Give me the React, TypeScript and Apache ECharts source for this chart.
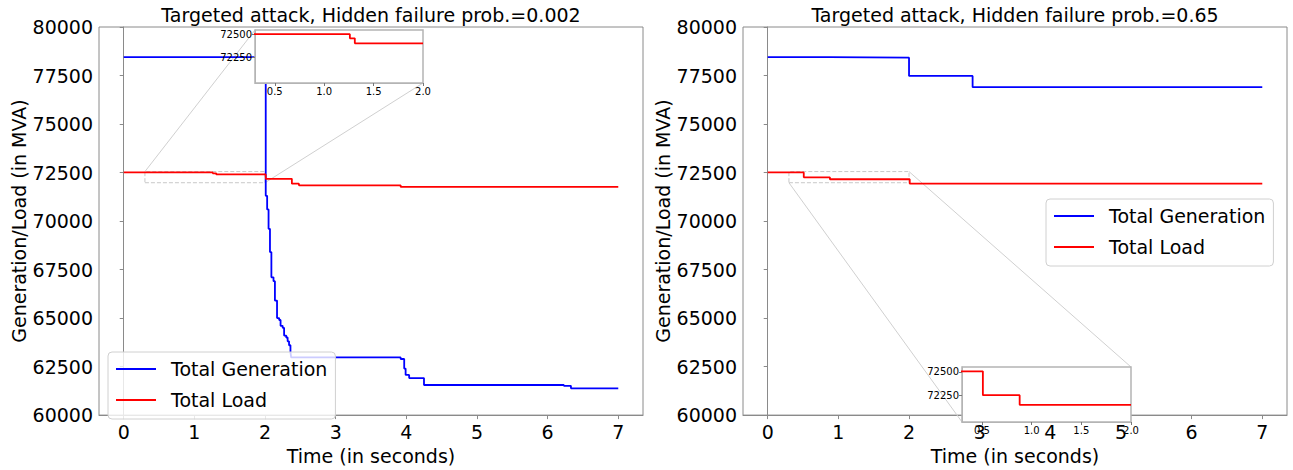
import React, { useEffect, useRef } from "react";
import * as echarts from "echarts";

const FONT = "DejaVu Sans";

// Main axis ticks
const xTicks = [0, 1, 2, 3, 4, 5, 6, 7];
const xRange = [-0.35, 7.35];
const yRange = [60000, 80000];
const yInterval = 2500;

// Inset ranges & ticks
const insetXRange = [0.3, 2.0];
const insetYRange = [71975, 72550];
const insetXTicks = [0.5, 1.0, 1.5, 2.0];
const insetYTicks = [72250, 72500];

// Left plot: hidden failure prob = 0.002 (change events: value holds from time onwards)
const leftGenTime = [0, 2.01, 2.03, 2.05, 2.07, 2.09, 2.12, 2.14, 2.17, 2.2, 2.22, 2.25, 2.27, 2.3, 2.32, 2.34, 2.36, 2.37, 3.92, 3.97, 3.99, 4.04, 4.25, 6.23, 6.33, 7.0];
const leftGenValue = [78450, 71300, 70600, 69600, 68400, 67100, 66900, 65900, 65000, 64900, 64600, 64500, 64100, 64000, 63800, 63600, 63250, 62970, 62890, 62400, 62070, 61910, 61550, 61510, 61380, 61380];
const leftLoadTime = [0, 1.26, 1.31, 2.01, 2.38, 2.48, 3.92, 7.0];
const leftLoadValue = [72505, 72460, 72405, 72175, 71925, 71840, 71760, 71760];

// Right plot: hidden failure prob = 0.65
const rightGenTime = [0, 0.87, 2.0, 2.9, 7.0];
const rightGenValue = [78450, 78420, 77480, 76900, 76900];
const rightLoadTime = [0, 0.51, 0.88, 2.01, 7.0];
const rightLoadValue = [72505, 72255, 72155, 71925, 71925];

const GEN = "Total Generation";
const LOAD = "Total Load";
const BLUE = "#0000ff";
const RED = "#ff0000";

const pairs = (t: number[], v: number[]) => t.map((x, i) => [x, v[i]]);

// Same events, limited to the inset's time window (value held up to the window's end)
const windowed = (t: number[], v: number[], lo: number, hi: number) => {
  const out: number[][] = [];
  let last = v[0];
  for (let i = 0; i < t.length; i++) {
    if (t[i] < hi) {
      out.push([t[i], v[i]]);
      last = v[i];
    }
  }
  out.push([hi, last]);
  return out.filter((p, i) => i === out.length - 1 || i === 0 || p[0] >= lo || true);
};

export default function App() {
  const ref = useRef<HTMLDivElement>(null);
  useEffect(() => {
    if (!ref.current) return;
    const chart = echarts.init(ref.current, undefined, { renderer: "svg" });

    const plain = (v: number) => String(v);

    const mainGrid = (left: number) => ({
      left,
      top: 27,
      width: 544,
      height: 397,
      show: true,
      borderColor: "#8a8a8a",
      borderWidth: 1,
      backgroundColor: "transparent",
    });
    const insetGrid = (left: number, top: number, width: number, height: number) => ({
      left,
      top,
      width,
      height,
      show: true,
      borderColor: "#b4b4b4",
      borderWidth: 1.5,
      backgroundColor: "#ffffff",
      z: 10,
    });

    const mainX = (gi: number) => ({
      type: "value",
      gridIndex: gi,
      min: xRange[0],
      max: xRange[1],
      name: "Time (in seconds)",
      nameLocation: "middle",
      nameGap: 28,
      nameTextStyle: { fontSize: 19, color: "#000", fontFamily: FONT },
      axisLine: { show: true, lineStyle: { color: "#8a8a8a" } },
      axisTick: { show: true, customValues: xTicks, length: 4, lineStyle: { color: "#8a8a8a" } },
      axisLabel: { customValues: xTicks, fontSize: 19, color: "#000", fontFamily: FONT, margin: 7, formatter: plain },
      splitLine: { show: false },
    });
    const mainY = (gi: number) => ({
      type: "value",
      gridIndex: gi,
      min: yRange[0],
      max: yRange[1],
      interval: yInterval,
      name: "Generation/Load (in MVA)",
      nameLocation: "middle",
      nameGap: 64,
      nameTextStyle: { fontSize: 19, color: "#000", fontFamily: FONT },
      axisLine: { show: true, lineStyle: { color: "#8a8a8a" } },
      axisTick: { show: true, length: 4, lineStyle: { color: "#8a8a8a" } },
      axisLabel: { fontSize: 19, color: "#000", fontFamily: FONT, margin: 6, formatter: plain },
      splitLine: { show: false },
    });
    const insetX = (gi: number) => ({
      type: "value",
      gridIndex: gi,
      min: insetXRange[0],
      max: insetXRange[1],
      z: 11,
      axisLine: { show: true, lineStyle: { color: "#b4b4b4" } },
      axisTick: { show: true, customValues: insetXTicks, length: 3, lineStyle: { color: "#777" } },
      axisLabel: {
        customValues: insetXTicks,
        fontSize: 10,
        color: "#000",
        fontFamily: FONT,
        margin: 3,
        formatter: (v: number) => v.toFixed(1),
      },
      splitLine: { show: false },
    });
    const insetY = (gi: number) => ({
      type: "value",
      gridIndex: gi,
      min: insetYRange[0],
      max: insetYRange[1],
      z: 11,
      axisLine: { show: true, lineStyle: { color: "#b4b4b4" } },
      axisTick: { show: true, customValues: insetYTicks, length: 3, lineStyle: { color: "#777" } },
      axisLabel: { customValues: insetYTicks, fontSize: 10, color: "#000", fontFamily: FONT, margin: 3, formatter: plain },
      splitLine: { show: false },
    });

    const lineSeries = (name: string, color: string, data: number[][], gi: number, z: number) => ({
      type: "line",
      name,
      xAxisIndex: gi,
      yAxisIndex: gi,
      data,
      step: "end",
      showSymbol: false,
      symbol: "none",
      clip: true,
      z,
      itemStyle: { color },
      lineStyle: { color, width: 1.8 },
    });

    const rectData = [
      [insetXRange[0], insetYRange[0]],
      [insetXRange[1], insetYRange[0]],
      [insetXRange[1], insetYRange[1]],
      [insetXRange[0], insetYRange[1]],
      [insetXRange[0], insetYRange[0]],
    ];
    const rectSeries = (gi: number) => ({
      type: "line",
      name: "zoomRect" + gi,
      xAxisIndex: gi,
      yAxisIndex: gi,
      data: rectData,
      showSymbol: false,
      symbol: "none",
      z: 1,
      silent: true,
      lineStyle: { color: "#c8c8c8", width: 1, type: [4, 2] },
    });

    const legend = (left: number, top: number) => ({
      orient: "vertical",
      left,
      top,
      data: [GEN, LOAD],
      icon: "rect",
      itemWidth: 40,
      itemHeight: 2,
      itemGap: 7,
      padding: [5, 8, 7, 8],
      backgroundColor: "rgba(255,255,255,0.8)",
      borderColor: "#d0d0d0",
      borderWidth: 1,
      borderRadius: 4,
      z: 20,
      textStyle: { fontSize: 19, color: "#000", fontFamily: FONT, lineHeight: 24, padding: [0, 0, 0, 10] },
      selectedMode: false,
    });

    const titleStyle = { fontSize: 19, color: "#000", fontFamily: FONT, fontWeight: "normal" };
    const [lo, hi] = insetXRange;

    chart.setOption({
      animation: false,
      backgroundColor: "#ffffff",
      title: [
        { text: "Targeted attack, Hidden failure prob.=0.002", left: 371, top: 5, textAlign: "center", textStyle: titleStyle, padding: 0 },
        { text: "Targeted attack, Hidden failure prob.=0.65", left: 1015, top: 5, textAlign: "center", textStyle: titleStyle, padding: 0 },
      ],
      grid: [mainGrid(99), mainGrid(743), insetGrid(255, 30, 168, 53), insetGrid(962, 367, 169, 55)],
      xAxis: [mainX(0), mainX(1), insetX(2), insetX(3)],
      yAxis: [mainY(0), mainY(1), insetY(2), insetY(3)],
      legend: [legend(108, 352), legend(1046, 199)],
      series: [
        rectSeries(0),
        rectSeries(1),
        lineSeries(GEN, BLUE, pairs(leftGenTime, leftGenValue), 0, 2),
        lineSeries(LOAD, RED, pairs(leftLoadTime, leftLoadValue), 0, 2),
        lineSeries(GEN, BLUE, pairs(rightGenTime, rightGenValue), 1, 2),
        lineSeries(LOAD, RED, pairs(rightLoadTime, rightLoadValue), 1, 2),
        lineSeries(GEN, BLUE, windowed(leftGenTime, leftGenValue, lo, hi), 2, 12),
        lineSeries(LOAD, RED, windowed(leftLoadTime, leftLoadValue, lo, hi), 2, 12),
        lineSeries(GEN, BLUE, windowed(rightGenTime, rightGenValue, lo, hi), 3, 12),
        lineSeries(LOAD, RED, windowed(rightLoadTime, rightLoadValue, lo, hi), 3, 12),
      ],
    });

    // Connector lines between the zoom rectangles and the insets
    const px = (gi: number, pt: number[]) => chart.convertToPixel({ gridIndex: gi } as any, pt) as number[];
    const connect = (mainGi: number, insetGi: number, pt: number[]) => {
      const a = px(mainGi, pt);
      const b = px(insetGi, pt);
      return {
        type: "line",
        silent: true,
        z: 1,
        shape: { x1: a[0], y1: a[1], x2: b[0], y2: b[1] },
        style: { stroke: "#d0d0d0", lineWidth: 1 },
      };
    };
    chart.setOption({
      graphic: [
        connect(0, 2, [insetXRange[0], insetYRange[1]]),
        connect(0, 2, [insetXRange[1], insetYRange[0]]),
        connect(1, 3, [insetXRange[0], insetYRange[0]]),
        connect(1, 3, [insetXRange[1], insetYRange[1]]),
      ],
    });

    return () => chart.dispose();
  }, []);

  return (
    <div
      ref={ref}
      style={{ position: "fixed", left: 0, top: 0, width: 1293, height: 470, background: "#fff" }}
    />
  );
}
